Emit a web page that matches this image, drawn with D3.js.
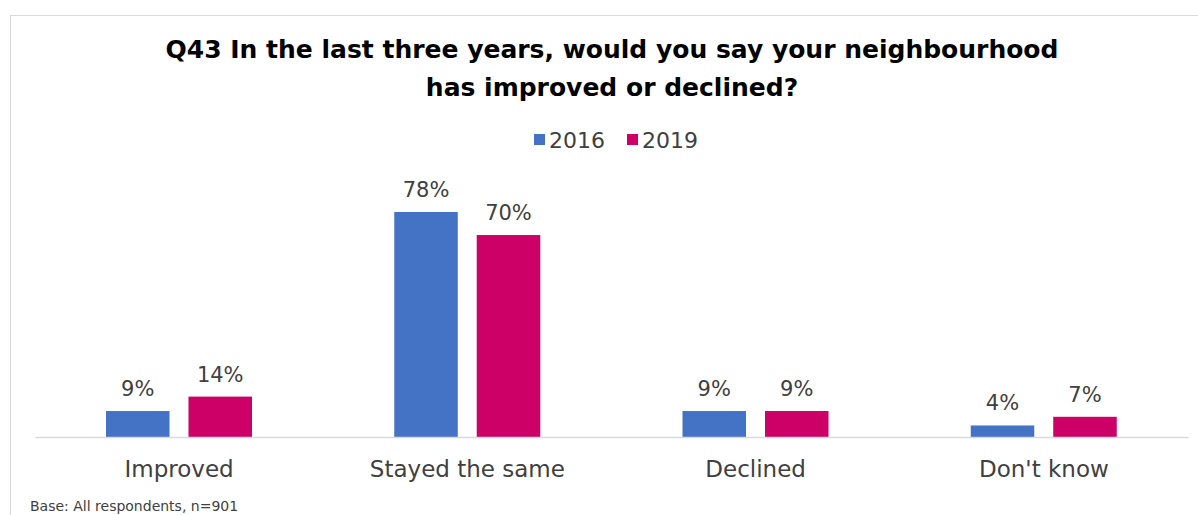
<!DOCTYPE html>
<html>
<head>
<meta charset="utf-8">
<script src="https://cdn.jsdelivr.net/npm/d3@7"></script>
<style>
  html, body { margin: 0; padding: 0; background: #fff; }
  svg { display: block; font-family: "DejaVu Sans", sans-serif; }
</style>
</head>
<body>
<svg id="chart" width="1198" height="515"></svg>
<script>
const categories = ["Improved", "Stayed the same", "Declined", "Don't know"];
const seriesNames = ["2016", "2019"];
const values2016 = [9, 78, 9, 4];
const values2019 = [14, 70, 9, 7];
const colors = ["#4472C4", "#CC0066"];
const titleLines = ["Q43 In the last three years, would you say your neighbourhood", "has improved or declined?"];
const baseNote = "Base: All respondents, n=901";

const svg = d3.select("#chart");
const W = 1198, H = 515;

// outer frame (top and left edges)
svg.append("path")
  .attr("d", `M10.5,${H} V15.5 H${W}`)
  .attr("fill", "none").attr("stroke", "#d9d9d9").attr("stroke-width", 1.2);

// title
svg.append("g").selectAll("text").data(titleLines).join("text")
  .attr("x", 612).attr("y", (d, i) => 58 + i * 38)
  .attr("text-anchor", "middle")
  .attr("font-size", 25).attr("font-weight", "bold").attr("fill", "#000")
  .text(d => d);

// legend
const legend = svg.append("g");
const legendX = [534, 627];
seriesNames.forEach((s, i) => {
  legend.append("rect").attr("x", legendX[i]).attr("y", 134).attr("width", 11).attr("height", 11).attr("fill", colors[i]);
  legend.append("text").attr("x", legendX[i] + 15).attr("y", 148)
    .attr("font-size", 22).attr("fill", "#404040").text(s);
});

// scales
const x0 = d3.scaleBand().domain(categories).range([35, 1188]).paddingInner(0).paddingOuter(0);
const x1 = d3.scaleBand().domain(seriesNames).range([71, 217]).paddingInner(0.23);
const y = d3.scaleLinear().domain([0, 100]).range([437, 148.5]);

const rows = categories.map((c, i) => ({ cat: c, vals: [values2016[i], values2019[i]] }));

const groups = svg.append("g").selectAll("g").data(rows).join("g")
  .attr("transform", d => `translate(${x0(d.cat)},0)`);

groups.selectAll("rect").data(d => d.vals.map((v, i) => ({ s: seriesNames[i], v, i }))).join("rect")
  .attr("x", d => x1(d.s))
  .attr("width", x1.bandwidth())
  .attr("y", d => y(d.v))
  .attr("height", d => y(0) - y(d.v))
  .attr("fill", d => colors[d.i]);

// value labels above bars
groups.selectAll("text.val").data(d => d.vals.map((v, i) => ({ s: seriesNames[i], v, i }))).join("text")
  .attr("class", "val")
  .attr("x", d => x1(d.s) + x1.bandwidth() / 2)
  .attr("y", d => y(d.v) - 15)
  .attr("text-anchor", "middle")
  .attr("font-size", 21).attr("fill", "#404040")
  .text(d => d.v + "%");

// category axis
const axis = svg.append("g").attr("transform", `translate(0,${y(0)})`)
  .call(d3.axisBottom(x0).tickSize(0).tickPadding(24));
axis.select(".domain").attr("stroke", "#d9d9d9").attr("stroke-width", 1.5);
axis.selectAll("text").attr("font-size", 23).attr("fill", "#404040")
  .attr("font-family", "DejaVu Sans, sans-serif");

// base note
svg.append("text").attr("x", 30).attr("y", 511)
  .attr("font-size", 14).attr("fill", "#404040").text(baseNote);
</script>
</body>
</html>
